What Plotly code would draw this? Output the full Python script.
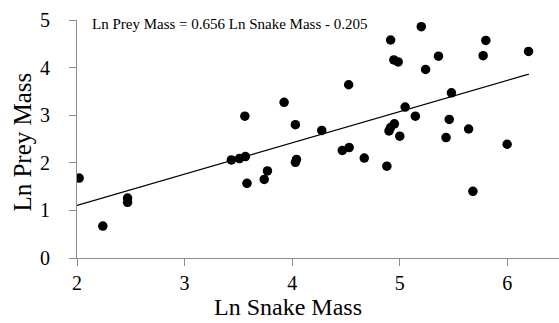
import numpy as np
import plotly.graph_objects as go

# Log-transformed snake and prey masses
ln_snake_mass = [2.02, 2.24, 2.47, 2.47, 3.435, 3.51, 3.565, 3.56, 3.58, 3.74, 3.77,
                 3.925, 4.03, 4.03, 4.04, 4.275, 4.466, 4.53, 4.525, 4.67, 4.88, 4.915,
                 4.90, 4.915, 4.95, 5.0, 4.945, 4.985, 5.05, 5.145, 5.20, 5.24, 5.36,
                 5.43, 5.46, 5.48, 5.64, 5.68, 5.775, 5.80, 5.998, 6.197]
ln_prey_mass = [1.68, 0.67, 1.26, 1.17, 2.06, 2.09, 2.13, 2.98, 1.57, 1.65, 1.83,
                3.27, 2.80, 2.01, 2.07, 2.68, 2.26, 2.32, 3.64, 2.10, 1.93, 4.58,
                2.67, 2.74, 2.82, 2.56, 4.16, 4.12, 3.17, 2.98, 4.86, 3.96, 4.24,
                2.53, 2.91, 3.47, 2.71, 1.40, 4.25, 4.57, 2.39, 4.34]

# Fitted regression: Ln Prey Mass = slope * Ln Snake Mass + intercept
slope = 0.656
intercept = -0.205
fit_x = np.array([2.0, 6.2])
fit_y = slope * fit_x + intercept

serif = "Liberation Serif"
axis_grey = "#8c8c8c"

fig = go.Figure()
fig.add_trace(go.Scatter(x=fit_x, y=fit_y, mode="lines",
                         line=dict(color="black", width=1.2), hoverinfo="skip"))
fig.add_trace(go.Scatter(x=ln_snake_mass, y=ln_prey_mass, mode="markers",
                         marker=dict(color="black", size=9.5, line=dict(width=0))))

fig.add_annotation(x=0.027, y=0.985, xref="paper", yref="paper",
                   xanchor="left", yanchor="middle", showarrow=False,
                   text="Ln Prey Mass = 0.656 Ln Snake Mass - 0.205",
                   font=dict(family=serif, size=15, color="black"))

# axis titles placed as paper annotations
fig.add_annotation(x=0.437, y=-0.207, xref="paper", yref="paper",
                   xanchor="center", yanchor="middle", showarrow=False,
                   text="Ln Snake Mass",
                   font=dict(family=serif, size=24, color="black"))
fig.add_annotation(x=-0.112, y=0.485, xref="paper", yref="paper",
                   xanchor="center", yanchor="middle", showarrow=False,
                   textangle=-90, text="Ln Prey Mass",
                   font=dict(family=serif, size=25, color="black"))

fig.update_layout(
    width=559, height=323,
    margin=dict(l=77, r=0, t=20, b=65),
    plot_bgcolor="white", paper_bgcolor="white",
    showlegend=False,
    font=dict(family=serif, color="black"),
    xaxis=dict(range=[2, 6.48], tickvals=[2, 3, 4, 5, 6], showgrid=False,
               zeroline=False, showline=True, linecolor=axis_grey, linewidth=1,
               ticks="outside", ticklen=7, tickcolor=axis_grey,
               tickfont=dict(size=20, family=serif)),
    yaxis=dict(range=[0, 5], tickvals=[0, 1, 2, 3, 4, 5], showgrid=False,
               zeroline=False, showline=True, linecolor=axis_grey, linewidth=1,
               ticks="outside", ticklen=7, tickcolor=axis_grey,
               ticklabelposition="outside", ticklabelstandoff=15,
               tickfont=dict(size=20, family=serif)),
)

fig.write_html("out.html")
